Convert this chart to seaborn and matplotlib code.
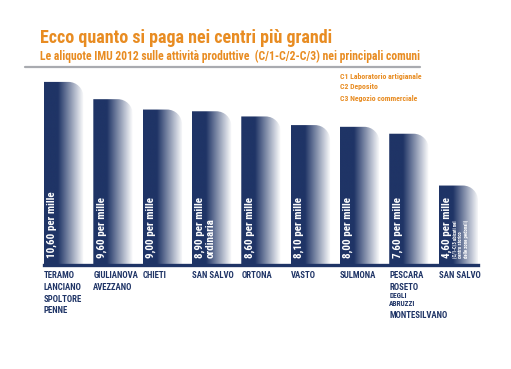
import matplotlib
matplotlib.use("Agg")
import matplotlib.pyplot as plt
import seaborn as sns
import numpy as np
import pandas as pd
from matplotlib.colors import LinearSegmentedColormap
from matplotlib.path import Path
from matplotlib.patches import PathPatch
from matplotlib import font_manager

# ---- data ----
comuni = ["TERAMO\nLANCIANO\nSPOLTORE\nPENNE", "GIULIANOVA\nAVEZZANO", "CHIETI",
          "SAN SALVO", "ORTONA", "VASTO", "SULMONA",
          "PESCARA\nROSETO\nDEGLI\nABRUZZI\nMONTESILVANO", "SAN SALVO "]
compatti = ["DEGLI", "ABRUZZI"]
aliquote = [10.6, 9.6, 9.0, 8.9, 8.6, 8.1, 8.0, 7.6, 4.6]
etichette = ["10,60 per mille", "9,60 per mille", "9,00 per mille", "8,90 per mille",
             "8,60 per mille", "8,10 per mille", "8,00 per mille", "7,60 per mille",
             "4,60 per mille"]
note = ["", "", "", "ordinaria", "", "", "", "",
        "(C/1-C/3 ubicati nel\ncentro storico\ndelle zone pedonali)"]
titolo = "Ecco quanto si paga nei centri più grandi"
sottotitolo = "Le aliquote IMU 2012 sulle attività produttive  (C/1-C/2-C/3) nei principali comuni"
legenda = ["C1 Laboratorio artigianale", "C2 Deposito", "C3 Negozio commerciale"]

NAVY = "#1f3466"
ORANGE = "#e88c22"

avail = {f.name for f in font_manager.fontManager.ttflist}
if "Roboto Condensed" in avail:
    FONT, STRETCH = "Roboto Condensed", "normal"
else:
    FONT, STRETCH = "DejaVu Sans", "condensed"

sns.set_theme(style="white")
plt.rcParams['font.family'] = [FONT, 'DejaVu Sans']
plt.rcParams['font.stretch'] = STRETCH

W, H, DPI = 511, 369, 100
fig = plt.figure(figsize=(W / DPI, H / DPI), dpi=DPI)
ax = fig.add_axes([44 / W, (H - 265) / H, (478 - 44) / W, (265 - 75) / H])

df = pd.DataFrame({"comune": comuni, "aliquota": aliquote})
sns.barplot(data=df, x="comune", y="aliquota", ax=ax, color=NAVY, width=0.8,
            saturation=1, order=comuni)
ax.set_xlim(-0.4, len(comuni) - 0.6)
ax.set_ylim(0, 11)
ax.set_xlabel("")
ax.set_ylabel("")
ax.set_xticks([])
ax.set_yticks([])
for s in ["top", "right", "left"]:
    ax.spines[s].set_visible(False)
ax.spines["bottom"].set_color(NAVY)
ax.spines["bottom"].set_linewidth(2.4)
ax.spines["bottom"].set_zorder(10)

fig.canvas.draw()
cmap = LinearSegmentedColormap.from_list("g", [(0, NAVY), (0.35, NAVY), (1.0, "#ffffff")])
grad = np.linspace(0, 1, 256).reshape(1, -1)
r = 15.0
for bar in ax.patches:
    bb = bar.get_window_extent()
    x0, y0, x1, y1 = bb.x0, bb.y0, bb.x1, bb.y1
    k = 0.5523 * r
    verts = [(x0, y0), (x1, y0), (x1, y1 - r),
             (x1, y1 - r + k), (x1 - r + k, y1), (x1 - r, y1),
             (x0, y1), (x0, y0)]
    codes = [Path.MOVETO, Path.LINETO, Path.LINETO,
             Path.CURVE4, Path.CURVE4, Path.CURVE4,
             Path.LINETO, Path.CLOSEPOLY]
    clip = PathPatch(Path(verts, codes), transform=None, facecolor="none", edgecolor="none")
    bx, by, bw, bh = bar.get_x(), bar.get_y(), bar.get_width(), bar.get_height()
    im = ax.imshow(grad, extent=[bx, bx + bw, by, by + bh], aspect="auto", cmap=cmap,
                   zorder=3, interpolation="bilinear")
    im.set_clip_path(clip)
    bar.set_visible(False)
ax.set_xlim(-0.4, len(comuni) - 0.6)
ax.set_ylim(0, 11)

for i, bar in enumerate(ax.patches):
    bx = bar.get_x()
    ax.annotate(etichette[i], xy=(bx, 0), xytext=(3, 7), textcoords="offset pixels",
                rotation=90, rotation_mode="anchor", ha="left", va="top",
                color="white", fontsize=8, fontweight="bold", zorder=5)
    if note[i]:
        small = note[i].startswith("(")
        ax.annotate(note[i], xy=(bx, 0), xytext=(14, 7),
                    textcoords="offset pixels", rotation=90, rotation_mode="anchor",
                    ha="left", va="top", color="white",
                    fontsize=8 if not small else 3.4, fontweight="bold",
                    linespacing=1.0, zorder=5)
    # city names, one text per line
    yoff = -11.0
    for j, line in enumerate(comuni[i].strip().split("\n")):
        compact = line in compatti
        if j > 0:
            yoff -= 8.0 if compact else 11.5
        ax.annotate(line, xy=(bx, 0), xytext=(0, yoff), textcoords="offset pixels",
                    ha="left", va="center", color=NAVY,
                    fontsize=5.3 if compact else 6.3,
                    fontweight="bold", annotation_clip=False)

# titles
fig.text(40 / W, 1 - 43 / H, titolo, color=ORANGE, fontsize=13, fontweight="bold",
         ha="left", va="baseline")
fig.text(40 / W, 1 - 60 / H, sottotitolo, color=ORANGE, fontsize=8.4, fontweight="bold",
         ha="left", va="baseline")
fig.add_artist(plt.Line2D([25 / W, 420 / W], [1 - 67 / H, 1 - 67 / H], color="#a9abb0",
                          lw=1.6, transform=fig.transFigure))
for j, t in enumerate(legenda):
    fig.text(340 / W, 1 - (76 + 11 * j) / H, t, color=ORANGE, fontsize=5.6,
             fontweight="bold", ha="left", va="center")

fig.savefig("out.png", dpi=DPI, facecolor="white")
